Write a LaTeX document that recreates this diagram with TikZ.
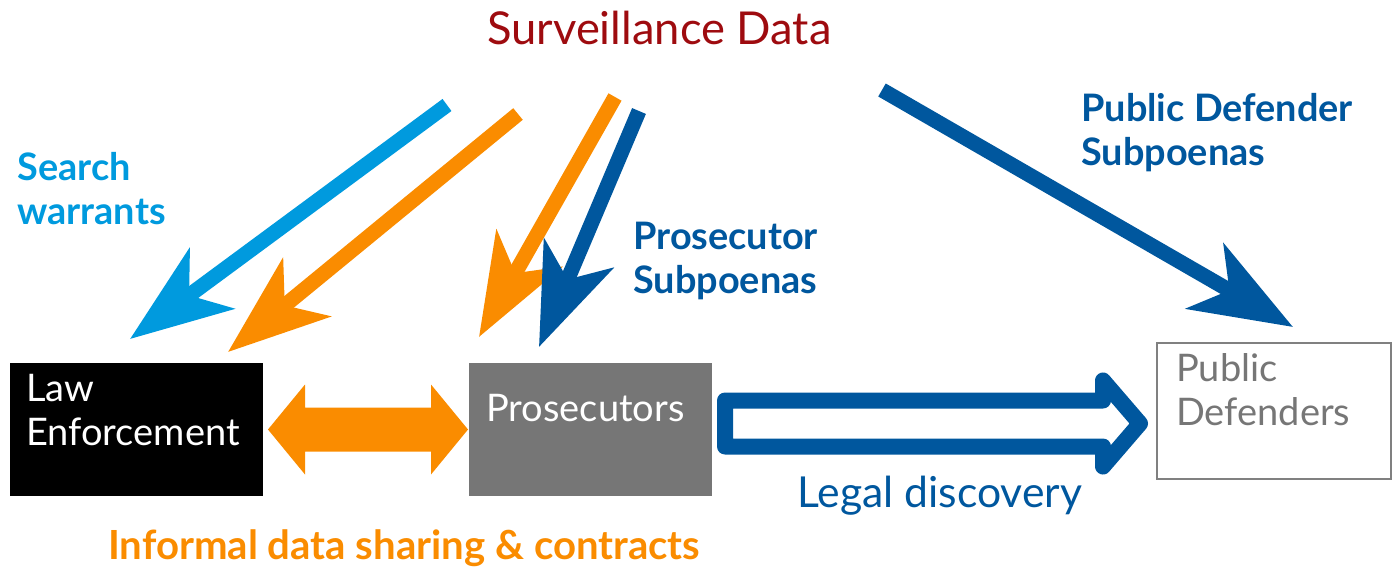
\documentclass[tikz,border=0pt]{standalone}
\usepackage{fontspec}
\setmainfont{Lato}
\usetikzlibrary{arrows.meta,calc}
\definecolor{sdred}{RGB}{158,11,15}
\definecolor{skyblue}{RGB}{0,154,222}
\definecolor{navy}{RGB}{0,87,158}
\definecolor{amber}{RGB}{250,140,0}
\definecolor{boxgray}{RGB}{118,118,118}
\definecolor{pdgray}{RGB}{118,118,118}
\definecolor{pdline}{RGB}{128,128,128}

\begin{document}
\begin{tikzpicture}[x=0.75pt,y=-0.75pt,
  flow/.style={line width=11.25pt, -{Stealth[length=76pt,width=56pt,inset=21pt]}},
  box/.style={inner sep=0pt, outer sep=0pt, minimum height=99.75pt},
  boxtxt/.style={inner sep=0pt, align=left, font=\fontsize{28.5}{33}\selectfont},
  lbl/.style={inner sep=0pt, align=left, font=\bfseries\fontsize{28.4}{33}\selectfont},
]
\useasboundingbox (0,0) rectangle (1393,571);

% boxes
\node[box, fill=black, minimum width=189.75pt] (le) at (136.5,429.5) {};
\node[box, fill=boxgray, minimum width=182.25pt] (pr) at (590.5,429.5) {};
\node[box, draw=pdline, line width=1.2pt, fill=white, minimum width=175.5pt, minimum height=102pt] (pd) at (1274,411) {};

\node[boxtxt, text=white, anchor=west] (letxt) at (26,410) {Law\\Enforcement};
\node[boxtxt, text=white, anchor=west] (prtxt) at (486,408) {Prosecutors};
\node[boxtxt, text=pdgray, anchor=west] (pdtxt) at (1176,390) {Public\\Defenders};

% source label
\node[inner sep=0pt, anchor=west, text=sdred, font=\fontsize{34}{40}\selectfont] (src) at (487,28) {Surveillance Data};

% channel labels
\node[lbl, text=skyblue, anchor=west] (swl) at (17,189) {Search\\warrants};
\node[lbl, text=navy, anchor=west] (psl) at (633,261) {Prosecutor\\Subpoenas};
\node[lbl, text=navy, anchor=west] (pdl) at (1081,133) {Public Defender\\Subpoenas};
\node[inner sep=0pt, anchor=west, text=amber, font=\bfseries\fontsize{30.1}{36}\selectfont] (infl) at (108,548) {Informal data sharing \& contracts};
\node[inner sep=0pt, anchor=west, text=navy, font=\fontsize{32}{38}\selectfont] (ldl) at (797,496) {Legal discovery};

% arrow end points
\coordinate (swA) at (447,105);  \coordinate (swB) at (130,339);
\coordinate (o1A) at (518,114);  \coordinate (o1B) at (228,352);
\coordinate (o2A) at (615,97);   \coordinate (o2B) at (479,337);
\coordinate (psA) at (639,111);  \coordinate (psB) at (539,347);
\coordinate (pdA) at (882,90);   \coordinate (pdB) at (1293,327);

\draw[flow, draw=skyblue, fill=skyblue] (swA) -- (swB);
\draw[flow, draw=amber, fill=amber] (o1A) -- (o1B);
\draw[flow, draw=amber, fill=amber] (o2A) -- (o2B);
\draw[flow, draw=navy, fill=navy] (psA) -- (psB);
\draw[flow, draw=navy, fill=navy] (pdA) -- (pdB);

% informal sharing: orange double arrow between the boxes
\fill[amber] ($(le.east)+(5,0)$) -- ++(37,-45) -- ++(0,23) -- ++(126,0) -- ++(0,-23)
  -- ($(pr.west)+(-1,0)$) -- ++(-37,45) -- ++(0,-23) -- ++(-126,0) -- ++(0,23) -- cycle;

% legal discovery: hollow arrow from prosecutors to public defenders
\draw[navy, line width=12pt, line join=round]
  ($(pr.east)+(13,-29)$) -- ++(378,0) -- ++(0,-20) -- ++(37,43) -- ++(-37,43) -- ++(0,-20) -- ++(-378,0) -- cycle;
\end{tikzpicture}
\end{document}
